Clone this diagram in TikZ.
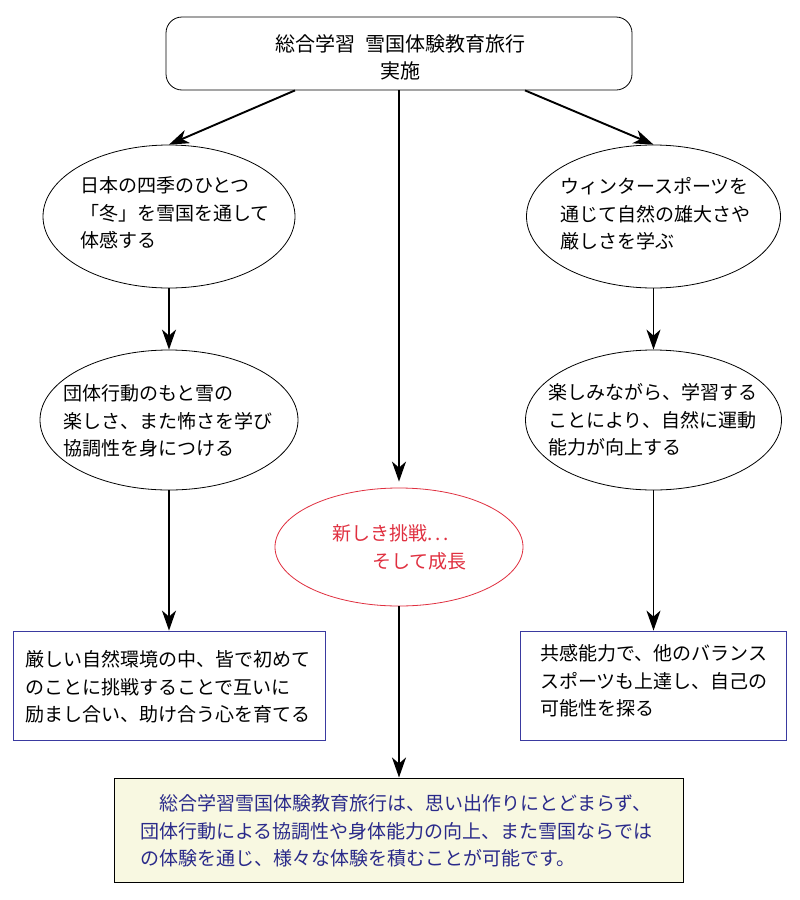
\documentclass[tikz,border=0pt]{standalone}
\usepackage{fontspec}
\newfontfamily\jp{Noto Sans CJK JP}
\usetikzlibrary{shapes.geometric,arrows.meta}
\definecolor{boxblue}{HTML}{3A3AA0}
\definecolor{ellred}{HTML}{E03040}
\definecolor{noteyellow}{HTML}{F8F8E1}
\definecolor{textblue}{HTML}{2A2A8A}
\begin{document}
\begin{tikzpicture}[x=1pt,y=-1pt,
  ell/.style={draw, ellipse, line width=0.8pt, inner sep=0},
  frame/.style={draw=boxblue, line width=0.8pt, inner sep=0},
  txt/.style={font=\jp\fontsize{19}{27.5}\selectfont, align=left, inner sep=0},
  arr/.style={line width=1.9pt, -{Stealth[length=20pt,width=14pt,inset=6pt]}},
  ]
\useasboundingbox (0,0) rectangle (800,900);
\fill[white] (0,0) rectangle (800,900);

% top box
\node[draw, rounded corners=16pt, line width=0.8pt, minimum width=466pt, minimum height=73pt, inner sep=0] (top) at (399,53.5) {};
\node[txt, align=center, font=\jp\fontsize{20}{27}\selectfont] (toptxt) at (400,57) {総合学習\hspace{0.5em}雪国体験教育旅行\\実施};

% left column
\node[ell, minimum width=252pt, minimum height=143pt] (e1) at (169,216.5) {};
\node[txt, anchor=west] (t1) at (80,213) {日本の四季のひとつ\\「冬」を雪国を通して\\体感する};
\node[ell, minimum width=258pt, minimum height=140pt] (e2) at (169,420) {};
\node[txt, anchor=west] (t2) at (63,421) {団体行動のもと雪の\\楽しさ、また怖さを学び\\協調性を身につける};
\node[frame, minimum width=312pt, minimum height=109pt] (b1) at (169,685.5) {};
\node[txt, anchor=west] (t5) at (25,687) {厳しい自然環境の中、皆で初めて\\のことに挑戦することで互いに\\励まし合い、助け合う心を育てる};

% right column
\node[ell, minimum width=254pt, minimum height=143pt] (e3) at (653.5,216.5) {};
\node[txt, anchor=west] (t3) at (560,214) {ウィンタースポーツを\\通じて自然の雄大さや\\厳しさを学ぶ};
\node[ell, minimum width=256pt, minimum height=140pt] (e4) at (653.5,420) {};
\node[txt, anchor=west] (t4) at (548,420) {楽しみながら、学習する\\ことにより、自然に運動\\能力が向上する};
\node[frame, minimum width=266pt, minimum height=109pt] (b2) at (653.5,685.5) {};
\node[txt, anchor=west] (t6) at (540,681) {共感能力で、他のバランス\\スポーツも上達し、自己の\\可能性を探る};

% centre
\node[ell, draw=ellred, minimum width=248pt, minimum height=118pt] (red) at (399,547) {};
\node[txt, anchor=west, text=ellred] (t7) at (332,547.5) {新しき挑戦.\kern3pt.\kern3pt.\\\hspace{2.1em}そして成長};

% bottom note
\node[draw, fill=noteyellow, line width=1pt, minimum width=569pt, minimum height=104pt, inner sep=0] (bottom) at (399,830) {};
\node[txt, anchor=west, text=textblue] (t8) at (140,831) {　総合学習雪国体験教育旅行は、思い出作りにとどまらず、\\団体行動による協調性や身体能力の向上、また雪国ならでは\\の体験を通じ、様々な体験を積むことが可能です。};

% arrows
\draw[arr] ([xshift=-104pt]top.south) -- (e1.north);
\draw[arr] ([xshift=126pt]top.south) -- (e3.north);
\draw[arr] (top.south) -- ([yshift=6pt]red.north);
\draw[arr] (e1.south) -- (e2.north);
\draw[arr] (e2.south) -- (b1.north);
\draw[arr] (e3.south) -- (e4.north);
\draw[arr] (e4.south) -- (b2.north);
\draw[arr] (red.south) -- (bottom.north);
\end{tikzpicture}
\end{document}
